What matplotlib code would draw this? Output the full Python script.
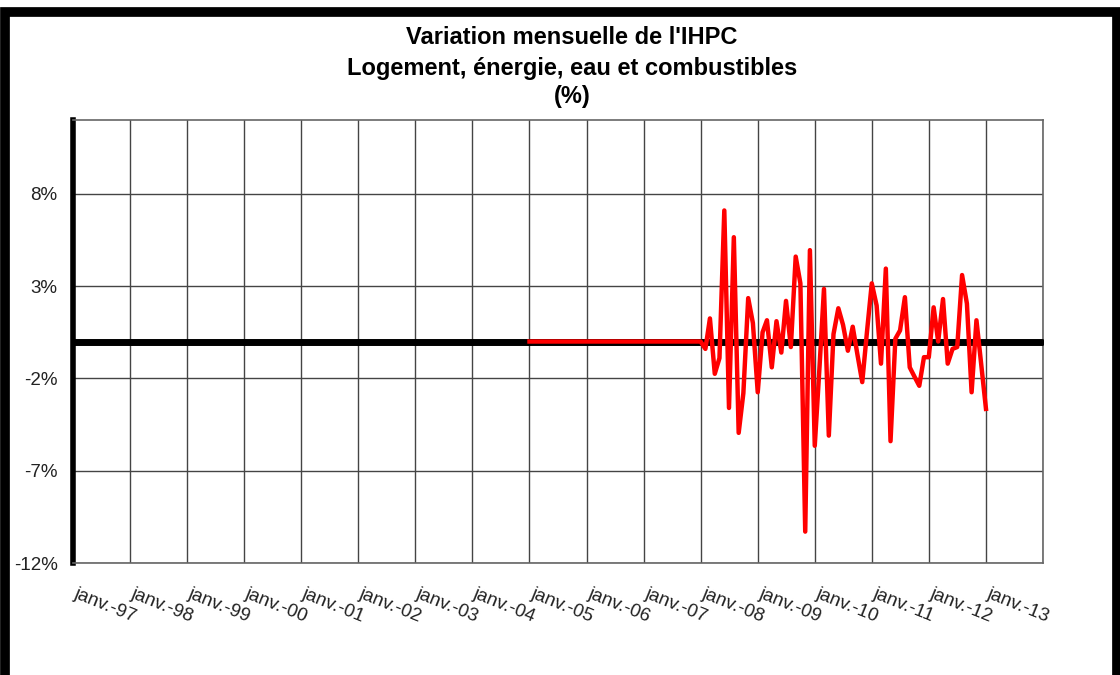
import numpy as np
import pandas as pd
import matplotlib
matplotlib.use('Agg')
import matplotlib.pyplot as plt
import matplotlib.transforms as mtransforms
from matplotlib.patches import Rectangle

# yearly base line (black, all zero)
base_years = [1997, 1998, 1999, 2000, 2001, 2002, 2003, 2004, 2005,
              2006, 2007, 2008, 2009, 2010, 2011, 2012, 2013, 2014]
base_values = [0.0, 0.0, 0.0, 0.0, 0.0, 0.0, 0.0, 0.0, 0.0,
               0.0, 0.0, 0.0, 0.0, 0.0, 0.0, 0.0, 0.0, 0.0]

# monthly IHPC change, janv.-05 .. janv.-13 (%)
ihpc_start = '2005-01-01'
ihpc_values = [
    0.0, 0.0, 0.0, 0.0, 0.0, 0.0, 0.0, 0.0, 0.0, 0.0, 0.0, 0.0,      # 2005
    0.0, 0.0, 0.0, 0.0, 0.0, 0.0, 0.0, 0.0, 0.0, 0.0, 0.0, 0.0,      # 2006
    0.0, 0.0, 0.0, 0.0, 0.0, 0.0, 0.0, 0.0, 0.0, 0.0, 0.0, 0.0,      # 2007
    0.0, -0.4, 1.25, -1.75, -0.9, 7.1, -3.6, 5.65, -4.95, -2.8, 2.35, 1.0,   # 2008
    -2.75, 0.5, 1.15, -1.4, 1.1, -0.6, 2.2, -0.3, 4.6, 3.15, -10.3, 4.95,    # 2009
    -5.65, -1.3, 2.85, -5.1, 0.4, 1.8, 0.9, -0.5, 0.8, -0.7, -2.2, 0.5,      # 2010
    3.15, 1.95, -1.2, 3.95, -5.4, 0.15, 0.6, 2.4, -1.4, -1.9, -2.4, -0.85,   # 2011
    -0.85, 1.85, 0.0, 2.3, -1.2, -0.4, -0.3, 3.6, 2.05, -2.75, 1.15, -1.2,   # 2012
    -3.65,                                                                  # 2013
]

y_ticks = [-12, -7, -2, 3, 8]
y_labels = ['-12%', '-7%', '-2%', '3%', '8%']
x_labels = ['janv.-97', 'janv.-98', 'janv.-99', 'janv.-00', 'janv.-01', 'janv.-02',
            'janv.-03', 'janv.-04', 'janv.-05', 'janv.-06', 'janv.-07', 'janv.-08',
            'janv.-09', 'janv.-10', 'janv.-11', 'janv.-12', 'janv.-13', '']

plt.rcParams['font.family'] = ['Liberation Sans', 'DejaVu Sans']

fig = plt.figure(figsize=(11.2, 6.75), dpi=100)
ax = fig.add_axes([73 / 1120, 112 / 675, 970 / 1120, 443 / 675])

base_dates = pd.to_datetime([f'{y}-01-01' for y in base_years])
ihpc_dates = pd.date_range(ihpc_start, periods=len(ihpc_values), freq='MS')

ax.plot(base_dates, base_values, color='black', lw=5, marker='o', ms=3.5,
        solid_capstyle='butt', zorder=3)
ax.plot(ihpc_dates, ihpc_values, color='#ff0000', lw=3.2, zorder=4,
        solid_joinstyle='round')

ax.set_xlim(base_dates[0], base_dates[-1])
ax.set_ylim(-12, 12)
ax.set_yticks(y_ticks)
ax.set_yticklabels(y_labels, fontsize=13.5, color='#222222')
ax.set_xticks(base_dates)
ax.set_xticklabels(x_labels, fontsize=13.5, color='#222222', rotation=-22,
                   ha='left', va='top', rotation_mode='anchor')
ax.tick_params(axis='y', length=0, pad=11)
ax.tick_params(axis='x', length=0, pad=16)

# nudge the date labels a little to the right, as in the original
shift = mtransforms.ScaledTranslation(5 / 100, 0, fig.dpi_scale_trans)
for lbl in ax.get_xticklabels():
    lbl.set_transform(lbl.get_transform() + shift)

ax.grid(True, color='#444444', lw=1)
ax.set_axisbelow(True)
for side in ['top', 'right', 'bottom']:
    ax.spines[side].set_color('#666666')
    ax.spines[side].set_linewidth(1.2)
ax.spines['left'].set_linewidth(4)
ax.spines['left'].set_color('black')

fig.text(572 / 1120, 1 - 38 / 675, "Variation mensuelle de l'IHPC", ha='center',
         va='center', fontsize=17, fontweight='bold')
fig.text(572 / 1120, 1 - 68 / 675, "Logement, énergie, eau et combustibles",
         ha='center', va='center', fontsize=17, fontweight='bold')
fig.text(572 / 1120, 1 - 97 / 675, "(%)", ha='center', va='center',
         fontsize=17, fontweight='bold')

# black frame of the slide
fig.patches.append(Rectangle((5 / 1120, -40 / 675), 1112 / 1120, (675 + 40 - 12) / 675,
                             transform=fig.transFigure, fill=False,
                             edgecolor='black', lw=7, clip_on=False))

fig.savefig('out.png', dpi=100, facecolor='white')
